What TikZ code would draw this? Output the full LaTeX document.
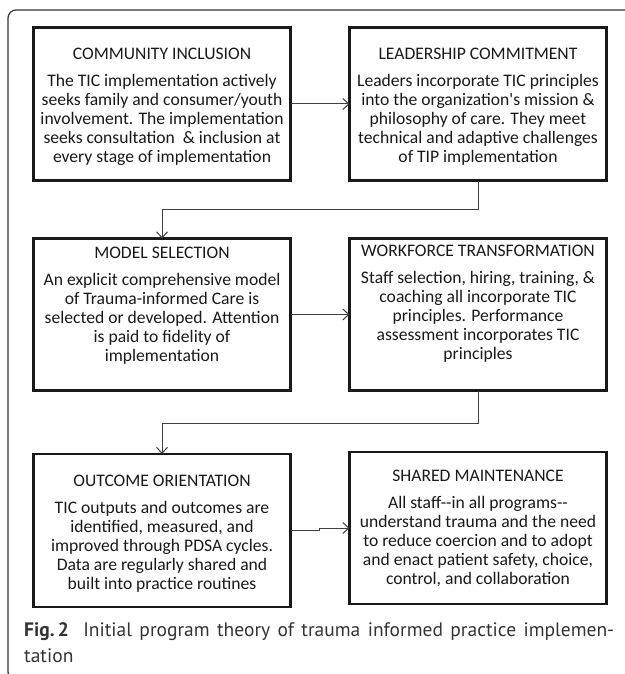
\documentclass[tikz,border=0pt]{standalone}
\usepackage{fontspec}
\setmainfont{Carlito}
\newfontfamily\capfont{PT Sans}
\usetikzlibrary{arrows.meta}
\begin{document}
\begin{tikzpicture}[x=1pt,y=1pt,
  tbox/.style={draw=black!90, line width=2.6pt, outer sep=0pt, inner sep=0pt, minimum width=257pt},
  ttext/.style={anchor=north, inner sep=0pt, align=center, text=black!90,
     font=\fontsize{17.6}{19}\selectfont},
  conn/.style={draw=black!75, line width=1pt, -{Straight Barb[length=6pt,width=11pt]}},
  frameline/.style={draw=black!80, line width=1.2pt, rounded corners=8pt},
  captext/.style={anchor=base west, inner sep=0pt, text=black!80, font=\capfont\fontsize{19.5}{26}\selectfont}]
\useasboundingbox (0,0) rectangle (624,-674);
% frame
\draw[frameline] (630,-10) -- (8,-10) -- (8,-680) -- (30,-680);
% boxes
\node[tbox, minimum height=153pt] (b1) at (162,-104) {};
\node[tbox, minimum height=153pt] (b2) at (478,-104) {};
\node[tbox, minimum height=152pt] (b3) at (162,-314.5) {};
\node[tbox, minimum height=152pt] (b4) at (478,-314.5) {};
\node[tbox, minimum height=153pt] (b5) at (162,-530.5) {};
\node[tbox, minimum height=152pt] (b6) at (478,-528) {};
% texts
\node[ttext] (t1) at ([yshift=-20pt]b1.north) {COMMUNITY INCLUSION\\[8pt]The TIC implementation actively\\seeks family and consumer/youth\\involvement. The implementation\\seeks consultation\ \ \& inclusion at\\every stage of implementation};
\node[ttext] (t2) at ([yshift=-20pt]b2.north) {LEADERSHIP COMMITMENT\\[8pt]Leaders incorporate TIC principles\\into the organization\textquotesingle s mission \&\\philosophy of care. They meet\\technical and adaptive challenges\\of TIP implementation};
\node[ttext] (t3) at ([yshift=-8pt]b3.north) {MODEL SELECTION\\[8pt]An explicit comprehensive model\\of Trauma-informed Care is\\selected or developed. Attention\\is paid to fidelity of\\implementation};
\node[ttext] (t4) at ([yshift=-6pt]b4.north) {WORKFORCE TRANSFORMATION\\[8pt]Staff selection, hiring, training, \&\\coaching all incorporate TIC\\principles. Performance\\assessment incorporates TIC\\principles};
\node[ttext] (t5) at ([yshift=-20.5pt]b5.north) {OUTCOME ORIENTATION\\[8pt]TIC outputs and outcomes are\\identified, measured, and\\improved through PDSA cycles.\\Data are regularly shared and\\built into practice routines};
\node[ttext] (t6) at ([yshift=-17.5pt]b6.north) {SHARED MAINTENANCE\\[8pt]All staff-{}-in all programs-{}-\\understand trauma and the need\\to reduce coercion and to adopt\\and enact patient safety, choice,\\control, and collaboration};
% connectors
\draw[conn] (b1.east) -- (b2.west);
\draw[conn] (b2.south) -- ++(0,-28.5) -| (b3.north);
\draw[conn] (b3.east) -- (b4.west);
\draw[conn] (b4.south) -- ++(0,-32.5) -| (b5.north);
\draw[conn] (b5.east) -- ++(28.5,0) |- (b6.west);
% caption
\node[captext] (c1) at (24,-636) {\makebox[590pt][s]{\textbf{Fig.\,2}\hspace{7pt} Initial program theory of trauma informed practice implemen-}};
\node[captext] (c2) at (24,-662) {tation};
\end{tikzpicture}
\end{document}
